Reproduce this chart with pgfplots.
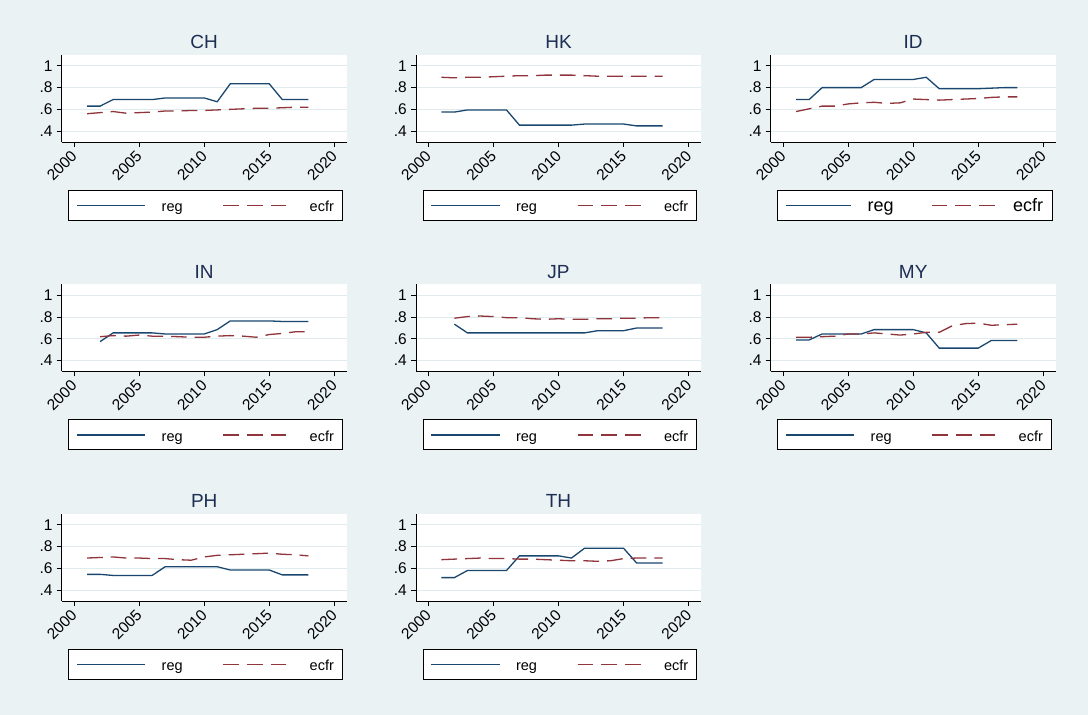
\documentclass[border=0pt]{standalone}
\usepackage{pgfplots}
\usepackage{pgfplotstable}
\pgfplotsset{compat=1.18}
\usepackage{fontspec}
\setmainfont{Liberation Sans}

\definecolor{bgc}{RGB}{234,242,243}
\definecolor{gridc}{RGB}{224,235,238}
\definecolor{regc}{RGB}{26,71,111}
\definecolor{ecfrc}{RGB}{144,53,59}
\definecolor{titlec}{RGB}{30,45,83}

\pgfplotstableread{
year reg ecfr
2001 .63 .56
2002 .63 .57
2003 .69 .58
2004 .69 .565
2005 .69 .57
2006 .69 .575
2007 .705 .585
2008 .705 .585
2009 .705 .59
2010 .705 .59
2011 .67 .595
2012 .835 .60
2013 .835 .605
2014 .835 .61
2015 .835 .61
2016 .69 .615
2017 .69 .62
2018 .69 .62
}\tCH
\pgfplotstableread{
year reg ecfr
2001 .575 .895
2002 .575 .89
2003 .595 .895
2004 .595 .895
2005 .595 .90
2006 .595 .905
2007 .455 .91
2008 .455 .91
2009 .455 .915
2010 .455 .915
2011 .455 .915
2012 .465 .91
2013 .465 .905
2014 .465 .905
2015 .465 .905
2016 .448 .905
2017 .448 .905
2018 .448 .905
}\tHK
\pgfplotstableread{
year reg ecfr
2001 .69 .58
2002 .69 .605
2003 .80 .63
2004 .80 .63
2005 .80 .65
2006 .80 .66
2007 .875 .665
2008 .875 .655
2009 .875 .66
2010 .875 .695
2011 .895 .69
2012 .79 .685
2013 .79 .69
2014 .79 .695
2015 .79 .70
2016 .795 .71
2017 .80 .715
2018 .80 .715
}\tID
\pgfplotstableread{
year reg ecfr
2002 .575 .62
2003 .655 .63
2004 .655 .625
2005 .655 .635
2006 .655 .625
2007 .645 .625
2008 .645 .62
2009 .645 .615
2010 .645 .615
2011 .685 .625
2012 .765 .63
2013 .765 .625
2014 .765 .615
2015 .765 .64
2016 .76 .65
2017 .76 .665
2018 .76 .665
}\tIN
\pgfplotstableread{
year reg ecfr
2002 .735 .79
2003 .655 .805
2004 .655 .81
2005 .655 .805
2006 .655 .795
2007 .655 .795
2008 .655 .785
2009 .655 .78
2010 .655 .785
2011 .655 .78
2012 .655 .78
2013 .675 .785
2014 .675 .785
2015 .675 .79
2016 .70 .79
2017 .70 .795
2018 .70 .795
}\tJP
\pgfplotstableread{
year reg ecfr
2001 .59 .615
2002 .59 .615
2003 .645 .62
2004 .645 .625
2005 .645 .645
2006 .645 .645
2007 .685 .655
2008 .685 .645
2009 .685 .635
2010 .685 .645
2011 .655 .66
2012 .515 .66
2013 .515 .72
2014 .515 .74
2015 .515 .745
2016 .585 .725
2017 .585 .73
2018 .585 .735
}\tMY
\pgfplotstableread{
year reg ecfr
2001 .545 .695
2002 .545 .70
2003 .535 .705
2004 .535 .695
2005 .535 .695
2006 .535 .69
2007 .615 .69
2008 .615 .68
2009 .615 .675
2010 .615 .705
2011 .615 .72
2012 .585 .725
2013 .585 .73
2014 .585 .735
2015 .585 .74
2016 .54 .73
2017 .54 .725
2018 .54 .715
}\tPH
\pgfplotstableread{
year reg ecfr
2001 .515 .68
2002 .515 .685
2003 .58 .69
2004 .58 .695
2005 .58 .69
2006 .58 .69
2007 .715 .685
2008 .715 .685
2009 .715 .68
2010 .715 .675
2011 .695 .67
2012 .785 .67
2013 .785 .665
2014 .785 .67
2015 .785 .69
2016 .65 .695
2017 .65 .695
2018 .65 .695
}\tTH

\pgfplotsset{
  panel/.style={
    scale only axis, width=285pt, height=87pt,
    xmin=1999.05, xmax=2020.95, ymin=0.3, ymax=1.1,
    axis x line*=bottom, axis y line*=left,
    axis line style={-, black, line width=0.8pt},
    xtick={2000,2005,2010,2015,2020},
    xticklabels={2000,2005,2010,2015,2020},
    ytick={0.4,0.6,0.8,1}, yticklabels={.4,.6,.8,1},
    tick align=outside, major tick length=5pt,
    tick style={black, line width=0.8pt},
    xticklabel style={xshift=1.5pt, yshift=-5pt, rotate=45, anchor=east,
      font=\fontsize{15.5}{16}\selectfont, inner sep=2pt},
    yticklabel style={font=\fontsize{15.5}{16}\selectfont, inner sep=4pt},
    ymajorgrids, grid style={gridc, line width=1.2pt},
    axis background/.style={fill=white},
    every axis title/.style={at={(axis description cs:0.5,1)}, anchor=base,
      yshift=6pt, font=\fontsize{19}{20}\selectfont, text=titlec},
    legend columns=2,
    legend style={at={(axis description cs:0,0)}, anchor=north west,
      xshift=6.6pt, yshift=-48pt, draw=black, line width=0.8pt, fill=white,
      inner xsep=7.7pt, inner ysep=0pt,
      nodes={inner sep=0pt, text depth=8.6pt},
      column sep=0pt, cells={anchor=west},
      font=\fontsize{14.5}{15}\selectfont},
  },
  regline/.style={color=regc, line width=1.3pt,
    legend image code/.code={\draw[regc, solid, line width=1.3pt] (0pt,0pt) -- (68.3pt,0pt);}},
  ecfrline/.style={color=ecfrc, line width=1.3pt, dash pattern=on 15.7pt off 8pt,
    legend image code/.code={\draw[ecfrc, line width=1.3pt, dash pattern=on 15.7pt off 8pt] (0pt,0pt) -- (64pt,0pt);}},
  regbig/.style={legend image code/.code={\draw[regc, solid, line width=1.3pt] (0pt,0pt) -- (65pt,0pt);}},
}
\newcommand{\lreg}{\makebox[76.7pt][l]{\hspace{15.7pt}reg\rule{0pt}{21.4pt}}}
\newcommand{\lecfr}{\makebox[46.6pt][l]{\hspace{21.7pt}ecfr\rule{0pt}{21.4pt}}}
\newcommand{\lregB}{\makebox[79.3pt][l]{\hspace{16pt}reg\rule{0pt}{21.4pt}}}
\newcommand{\lecfrB}{\makebox[48.3pt][l]{\hspace{16.7pt}ecfr\rule{0pt}{21.4pt}}}

\begin{document}
\begin{tikzpicture}[x=1pt,y=1pt]
\fill[bgc] (0,0) rectangle (1088,715);
\useasboundingbox (0,0) rectangle (1088,715);

% Row 1
\begin{axis}[panel, at={(61.7pt,573pt)}, anchor=south west, title={CH}]
\addplot[regline] table[x=year,y=reg]{\tCH};
\addplot[ecfrline] table[x=year,y=ecfr]{\tCH};
\legend{\lreg,\lecfr}
\end{axis}
\begin{axis}[panel, at={(416pt,573pt)}, anchor=south west, title={HK}]
\addplot[regline] table[x=year,y=reg]{\tHK};
\addplot[ecfrline] table[x=year,y=ecfr]{\tHK};
\legend{\lreg,\lecfr}
\end{axis}
\begin{axis}[panel, at={(770.7pt,573pt)}, anchor=south west, title={ID},
  legend style={font=\fontsize{18}{19}\selectfont}]
\addplot[regline, regbig] table[x=year,y=reg]{\tID};
\addplot[ecfrline] table[x=year,y=ecfr]{\tID};
\legend{\lregB,\lecfrB}
\end{axis}

% Row 2
\begin{axis}[panel, at={(61.7pt,343.5pt)}, anchor=south west, title={IN}]
\addplot[regline] table[x=year,y=reg]{\tIN};
\addplot[ecfrline] table[x=year,y=ecfr]{\tIN};
\legend{\lreg,\lecfr}
\end{axis}
\begin{axis}[panel, at={(416pt,343.5pt)}, anchor=south west, title={JP}]
\addplot[regline] table[x=year,y=reg]{\tJP};
\addplot[ecfrline] table[x=year,y=ecfr]{\tJP};
\legend{\lreg,\lecfr}
\end{axis}
\begin{axis}[panel, at={(770.7pt,343.5pt)}, anchor=south west, title={MY}]
\addplot[regline] table[x=year,y=reg]{\tMY};
\addplot[ecfrline] table[x=year,y=ecfr]{\tMY};
\legend{\lreg,\lecfr}
\end{axis}

% Row 3
\begin{axis}[panel, at={(61.7pt,114pt)}, anchor=south west, title={PH}]
\addplot[regline] table[x=year,y=reg]{\tPH};
\addplot[ecfrline] table[x=year,y=ecfr]{\tPH};
\legend{\lreg,\lecfr}
\end{axis}
\begin{axis}[panel, at={(416pt,114pt)}, anchor=south west, title={TH}]
\addplot[regline] table[x=year,y=reg]{\tTH};
\addplot[ecfrline] table[x=year,y=ecfr]{\tTH};
\legend{\lreg,\lecfr}
\end{axis}
\end{tikzpicture}
\end{document}
